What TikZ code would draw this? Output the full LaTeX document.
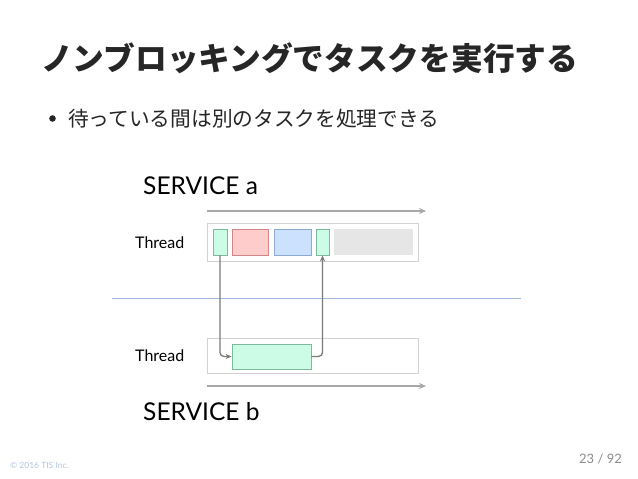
\documentclass[tikz,border=0pt]{standalone}
\usepackage{fontspec}
\setmainfont{Lato}
\newfontfamily\jpfont{Noto Sans CJK JP}
\usetikzlibrary{arrows.meta}
\definecolor{taskgreen}{HTML}{CCFBE6}
\definecolor{taskgreenline}{HTML}{7DB99B}
\definecolor{taskred}{HTML}{FFCCCC}
\definecolor{taskredline}{HTML}{D38686}
\definecolor{taskblue}{HTML}{CCE1FD}
\definecolor{taskblueline}{HTML}{8DAAD2}
\definecolor{idlegray}{HTML}{E6E6E6}
\definecolor{framegray}{HTML}{D2D2D2}
\definecolor{linkgray}{HTML}{7A7A7A}
\definecolor{timegray}{HTML}{A8A8A8}
\definecolor{splitblue}{HTML}{A3B6DE}
\tikzset{
  task/.style={draw,line width=0.8pt,minimum height=26pt,inner sep=0pt},
  frame/.style={draw=framegray,line width=0.9pt,minimum width=211pt,inner sep=0pt},
  link/.style={draw=linkgray,line width=1.3pt,rounded corners=4pt,-{Stealth[length=6pt,width=5pt]}},
  timeline/.style={draw=timegray,line width=1.2pt,-{Stealth[length=7pt,width=6pt]}},
  txt/.style={inner sep=0pt,anchor=west}
}
\begin{document}
\begin{tikzpicture}[x=1pt,y=-1pt]
      \useasboundingbox[fill=white] (0,0) rectangle (638,479);
      % title and bullet
      \node[txt,text=black!85] (title) at (41,58) {\fontsize{31.7}{31.7}\jpfont\bfseries ノンブロッキングでタスクを実行する};
      \fill[black!85] (52.5,118.5) circle (3.3);
      \node[txt,text=black!85] (point) at (68,118.5) {\fontsize{20.7}{20.7}\jpfont 待っている間は別のタスクを処理できる};
      % service a
      \node[txt] (servicea) at (143,186) {\fontsize{24.5}{24.5}\selectfont SERVICE a};
      \coordinate (tas) at (207,211);
      \coordinate (tae) at (426,211);
      \draw[timeline] (tas) -- (tae);
      \node[frame,minimum height=38pt] (framea) at (312.5,242) {};
      \node[txt] (threada) at (135,243) {\fontsize{16}{16}\selectfont Thread};
      \node[task,fill=taskgreen,draw=taskgreenline,minimum width=14pt] (g1) at (220,242) {};
      \node[task,fill=taskred,draw=taskredline,minimum width=36pt] (r1) at (250,242) {};
      \node[task,fill=taskblue,draw=taskblueline,minimum width=37pt] (b1) at (292.5,242) {};
      \node[task,fill=taskgreen,draw=taskgreenline,minimum width=13pt] (g2) at (322.5,242) {};
      \node[task,fill=idlegray,draw=none,minimum width=79pt] (idle) at (373.5,242) {};
      % divider
      \coordinate (dl) at (112,298);
      \coordinate (dr) at (521,298);
      \draw[splitblue,line width=1pt] (dl) -- (dr);
      % service b
      \node[frame,minimum height=35pt] (frameb) at (312.5,355.5) {};
      \node[txt] (threadb) at (135,356) {\fontsize{16}{16}\selectfont Thread};
      \node[task,fill=taskgreen,draw=taskgreenline,minimum width=79pt,minimum height=25pt] (work) at (271.5,356.5) {};
      \draw[link] (g1.south) |- (work.west);
      \draw[link] (work.east) -| (g2.south);
      \coordinate (tbs) at (207,386);
      \coordinate (tbe) at (426,386);
      \draw[timeline] (tbs) -- (tbe);
      \node[txt] (serviceb) at (143,412) {\fontsize{24.5}{24.5}\selectfont SERVICE b};
      % footer
      \node[txt,text=splitblue!80] (copy) at (10,465) {\fontsize{8.5}{8.5}\selectfont © 2016 TIS Inc.};
      \node[txt,text=black!45] (page) at (579,459) {\fontsize{13}{13}\selectfont 23 / 92};
\end{tikzpicture}
\end{document}
